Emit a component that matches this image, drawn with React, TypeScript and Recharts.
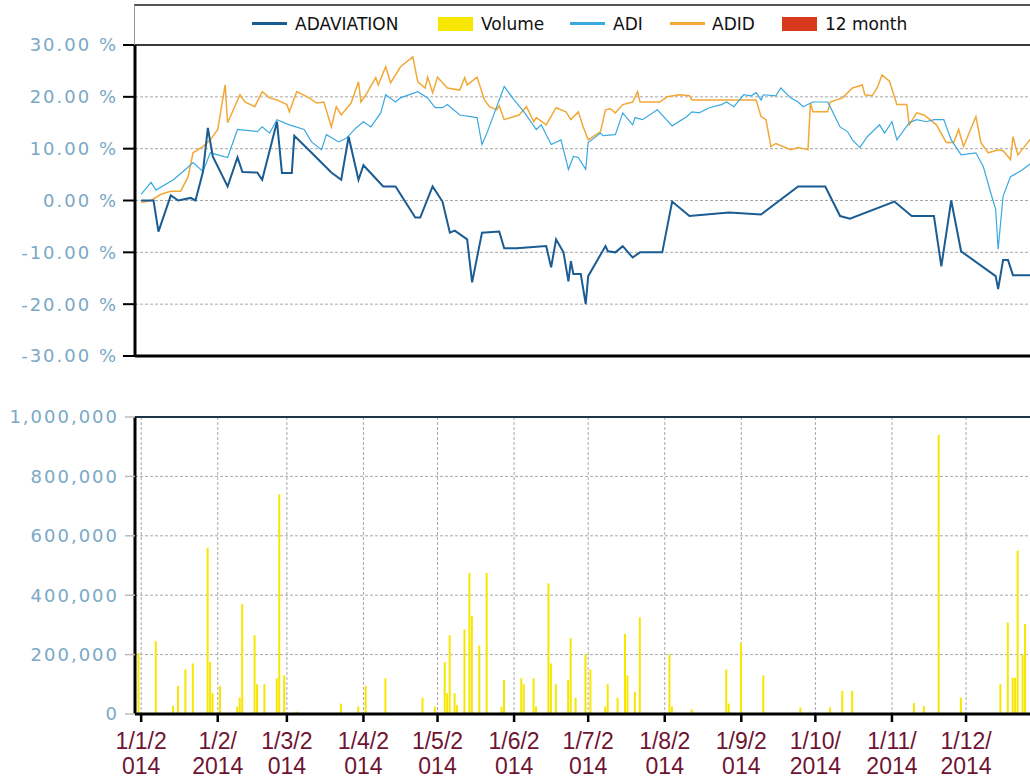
import React from 'react';
import { ComposedChart, Line, Bar, XAxis, YAxis, CartesianGrid, ReferenceLine } from 'recharts';

// ---- axes / categories ----
const monthStartDays = [0, 31, 59, 90, 120, 151, 181, 212, 243, 273, 304, 334];
const quarterStartDays = [0, 90, 181, 273];
const xTickLine1 = ['1/1/2', '1/2/', '1/3/2', '1/4/2', '1/5/2', '1/6/2', '1/7/2', '1/8/2', '1/9/2', '1/10/', '1/11/', '1/12/'];
const xTickLine2 = ['014', '2014', '014', '014', '014', '014', '014', '014', '014', '2014', '2014', '2014'];
const pctTicks = [-30, -20, -10, 0, 10, 20, 30];
const volumeTicks = [0, 200000, 400000, 600000, 800000, 1000000];
const legendLabels = ['ADAVIATION', 'Volume', 'ADI', 'ADID', '12 month'];

// ---- series (day offset from 1 Jan 2014, value) ----
const adaviationDays = [0,5,7,12,15,20,22,25,27,29,35,39,41,47,49,55,57,61,62,69,77,81,84,88,90,98,103,111,113,118,122,125,127,132,134,138,145,147,152,164,166,168,171,173,174,175,178,180,181,188,189,192,195,199,202,211,215,222,238,251,266,277,283,287,305,312,321,324,328,332,346,347,349,351,353,362];
const adaviationValues = [0,0,-6,1,0,0.5,0,5.5,14,8.5,2.7,8.3,5.5,5.4,4,15.2,5.3,5.3,12.5,9.2,5.4,4,12.3,4,6.8,2.7,2.7,-3.3,-3.3,2.7,-0.2,-6.2,-5.8,-7.5,-15.8,-6.2,-6,-9.2,-9.2,-8.8,-12.9,-7.5,-10,-15.6,-11.7,-14.2,-14.2,-20,-14.6,-8.8,-9.8,-10,-8.8,-11,-10,-10,-0.2,-3,-2.3,-2.7,2.7,2.7,-3,-3.5,-0.2,-3,-3,-12.7,0,-9.8,-14.6,-17.1,-11.5,-11.5,-14.4,-14.4];

const adiDays = [0,4,6,13,17,21,25,28,35,39,47,49,52,55,60,66,69,73,75,80,83,87,90,93,97,99,103,105,112,116,119,122,124,129,136,138,140,147,151,155,160,162,166,170,173,175,177,180,181,186,187,192,195,199,200,203,209,215,221,223,226,230,235,237,240,241,244,247,249,251,252,257,259,263,266,268,272,278,280,283,286,288,291,294,299,301,304,306,311,314,318,321,325,328,332,338,341,344,346,347,349,352,355,357,362];
const adiValues = [1.2,3.5,2,4,5.6,7.3,5.6,9.2,8.3,13.7,13.3,14.2,13,15.6,14.6,13.7,11.3,9.8,12.7,11.3,12,14,15.2,14.2,16.9,20.4,19,19.8,21,19.8,17.9,17.9,18.5,16.5,16,10.8,13,22,19.4,17.1,13.7,14.6,10.8,11.7,6,8.5,8.3,6,11.2,13,12.5,12.7,16.9,14.6,16,15.6,17.5,14.4,16.2,17.1,16.9,17.9,18.5,19,18.1,18.7,20.4,20.2,20.8,19.4,20.4,20.2,21.7,19.8,19,18.1,19,19,17.1,14.2,13.3,11.7,10.2,12.3,14.6,13,15.2,11.7,15,15.6,15.2,15.6,15.6,11.7,8.8,9.2,6.5,1.5,-1.7,-9.4,0.8,4.6,5.4,6,7.8];

const adidDays = [0,4,8,12,16,19,21,25,28,31,34,35,40,42,46,49,52,55,59,60,63,68,71,74,77,79,81,85,88,89,91,95,96,99,101,105,110,112,115,116,118,120,124,129,131,132,136,139,141,144,145,147,151,153,156,159,160,164,168,172,174,177,179,181,186,188,190,192,195,199,201,202,210,213,218,222,223,249,251,253,255,257,263,266,270,271,272,278,279,284,288,292,293,296,298,300,303,305,306,310,311,314,317,322,326,329,331,333,338,340,343,347,349,352,353,355,362];
const adidValues = [-0.4,0,1.2,1.8,1.8,4.6,9.2,10.4,11.7,13.7,22.3,15,20.4,19,18.1,21,19.8,19.4,18.5,17.1,21,19.8,18.8,19,14.2,18.1,16.5,18.8,22.9,19,20.4,23.7,22.3,25.8,22.7,25.8,27.7,22.9,21.7,23.8,20.8,23.8,21.7,21.3,23.7,22.3,23.8,19.4,18.1,17.5,18.3,15.6,16.2,16.5,18.1,15.2,16,14.6,17.9,17.1,15.6,17.1,14.2,11.7,13.3,17.5,17.7,16.9,18.5,19,21,19,19,20,20.4,20.2,19.4,19.4,16.2,15.6,10.4,11,9.8,10.2,9.8,18.8,17.1,17.1,19,19.8,21.7,22.3,20.4,20.2,21.7,24.2,23,20,18.5,18.5,14.6,16.9,16.5,14.6,11.2,11.2,13.7,10.4,16.2,11.2,9.2,9.8,9.6,7.9,12.3,8.8,13];

const volumeDays = [-1,6,13,15,18,21,27,28,29,32,39,40,41,46,47,50,55,56,58,63,81,88,91,99,114,119,123,124,125,127,128,131,133,134,137,140,146,147,154,155,159,160,165,166,168,173,174,176,180,182,188,189,193,196,197,200,202,214,215,223,237,238,243,252,267,279,284,288,313,317,323,332,348,351,353,354,355,357,358];
const volumeValues = [205000,245000,27000,95000,150000,170000,560000,175000,70000,95000,25000,55000,370000,265000,100000,100000,120000,740000,130000,8000,35000,25000,95000,120000,55000,25000,175000,70000,265000,70000,30000,285000,475000,330000,230000,475000,25000,115000,120000,100000,120000,25000,440000,170000,100000,115000,255000,55000,200000,150000,25000,100000,55000,270000,130000,75000,325000,200000,25000,15000,150000,35000,240000,130000,22000,22000,78000,78000,37000,27000,940000,55000,100000,308000,122000,122000,550000,200000,303000];

const zip = (days: number[], vals: number[]) => days.map((d, i) => ({ day: d, v: vals[i] }));
const adaviationData = zip(adaviationDays, adaviationValues);
const adiData = zip(adiDays, adiValues);
const adidData = zip(adidDays, adidValues);
const volumeData = zip(volumeDays, volumeValues);

const COLORS = {
  adaviation: '#1b5c93',
  adi: '#3aa9e0',
  adid: '#f2a836',
  volume: '#f7e600',
  twelve: '#d83a1e',
};

const X_DOMAIN: [number, number] = [-2.5, 368];
const FONT = "'DejaVu Sans', Verdana, sans-serif";
const XFONT = "'Liberation Sans', Arial, sans-serif";
const yTickStyle = { fill: '#7aa8c6', fontSize: 18, fontFamily: FONT, letterSpacing: 2 };

const MonthTick = (props: any) => {
  const { x, y, payload } = props;
  const i = monthStartDays.indexOf(payload.value);
  return (
    <g>
      <text x={x} y={y + 25} textAnchor="middle" fontSize={23} fontFamily={XFONT} fill="#6e1432">{xTickLine1[i]}</text>
      <text x={x} y={y + 50} textAnchor="middle" fontSize={23} fontFamily={XFONT} fill="#6e1432">{xTickLine2[i]}</text>
    </g>
  );
};

const Legend = () => {
  const textStyle: React.CSSProperties = { position: 'absolute', top: 14, height: 20, lineHeight: '20px', fontSize: 17, fontFamily: FONT, color: '#111', whiteSpace: 'nowrap' };
  const line = (left: number, color: string) => (
    <div style={{ position: 'absolute', left, top: 22, width: 35, height: 3, background: color }} />
  );
  const rect = (left: number, color: string) => (
    <div style={{ position: 'absolute', left, top: 17, width: 35, height: 14, background: color }} />
  );
  return (
    <div style={{ position: 'absolute', left: 0, top: 0, width: 1030, height: 45 }}>
      <div style={{ position: 'absolute', left: 134, top: 4, width: 1000, height: 41, borderTop: '2px solid #555', borderLeft: '1px solid #999', boxSizing: 'border-box' }} />
      {line(252, COLORS.adaviation)}
      <div style={{ ...textStyle, left: 295 }}>{legendLabels[0]}</div>
      {rect(438, COLORS.volume)}
      <div style={{ ...textStyle, left: 481 }}>{legendLabels[1]}</div>
      {line(570, COLORS.adi)}
      <div style={{ ...textStyle, left: 613 }}>{legendLabels[2]}</div>
      {line(670, COLORS.adid)}
      <div style={{ ...textStyle, left: 712 }}>{legendLabels[3]}</div>
      {rect(782, COLORS.twelve)}
      <div style={{ ...textStyle, left: 825 }}>{legendLabels[4]}</div>
    </div>
  );
};

export default function App() {
  return (
    <div style={{ position: 'fixed', left: 0, top: 0, width: 1030, height: 783, overflow: 'hidden', background: '#fff' }}>
      <div style={{ position: 'absolute', left: 0, top: 0 }}>
        <ComposedChart width={1100} height={370} margin={{ top: 45, right: 50, bottom: 12, left: 0 }}>
          <CartesianGrid stroke="#a8a8a8" strokeDasharray="3 2" />
          <XAxis
            type="number"
            dataKey="day"
            domain={X_DOMAIN}
            allowDataOverflow
            ticks={quarterStartDays}
            interval={0}
            tick={false}
            tickLine={false}
            height={2}
            axisLine={{ stroke: '#000', strokeWidth: 3 }}
          />
          <YAxis
            type="number"
            domain={[-30, 30]}
            ticks={pctTicks}
            interval={0}
            width={135}
            tickSize={12}
            tickMargin={5}
            tickFormatter={(v: number) => `${v.toFixed(2)} %`}
            tick={yTickStyle}
            tickLine={{ stroke: '#000', strokeWidth: 2 }}
            axisLine={{ stroke: '#000', strokeWidth: 3 }}
          />
          <ReferenceLine y={30} stroke="#3a3a3a" strokeWidth={2} />
          <Line data={adidData} dataKey="v" name="ADID" type="linear" stroke={COLORS.adid} strokeWidth={1.5} dot={false} isAnimationActive={false} />
          <Line data={adiData} dataKey="v" name="ADI" type="linear" stroke={COLORS.adi} strokeWidth={1.2} dot={false} isAnimationActive={false} />
          <Line data={adaviationData} dataKey="v" name="ADAVIATION" type="linear" stroke={COLORS.adaviation} strokeWidth={2} dot={false} isAnimationActive={false} />
        </ComposedChart>
      </div>
      <Legend />
      <div style={{ position: 'absolute', left: 0, top: 400 }}>
        <ComposedChart width={1100} height={383} data={volumeData} margin={{ top: 17, right: 50, bottom: 0, left: 0 }}>
          <CartesianGrid stroke="#a8a8a8" strokeDasharray="3 2" />
          <XAxis
            type="number"
            dataKey="day"
            domain={X_DOMAIN}
            allowDataOverflow
            ticks={monthStartDays}
            interval={0}
            height={69}
            tickSize={8}
            tickMargin={2}
            tick={<MonthTick />}
            tickLine={{ stroke: '#000', strokeWidth: 2.5 }}
            axisLine={{ stroke: '#000', strokeWidth: 3 }}
          />
          <YAxis
            type="number"
            domain={[0, 1000000]}
            ticks={volumeTicks}
            interval={0}
            width={135}
            tickSize={10}
            tickMargin={6}
            tickFormatter={(v: number) => v.toLocaleString('en-US')}
            tick={yTickStyle}
            tickLine={{ stroke: '#bbb', strokeWidth: 1.5 }}
            axisLine={{ stroke: '#000', strokeWidth: 3 }}
          />
          <ReferenceLine y={1000000} stroke="#1c3448" strokeWidth={2} />
          <Bar dataKey="v" name="Volume" fill={COLORS.volume} barSize={2} isAnimationActive={false} />
        </ComposedChart>
      </div>
    </div>
  );
}
